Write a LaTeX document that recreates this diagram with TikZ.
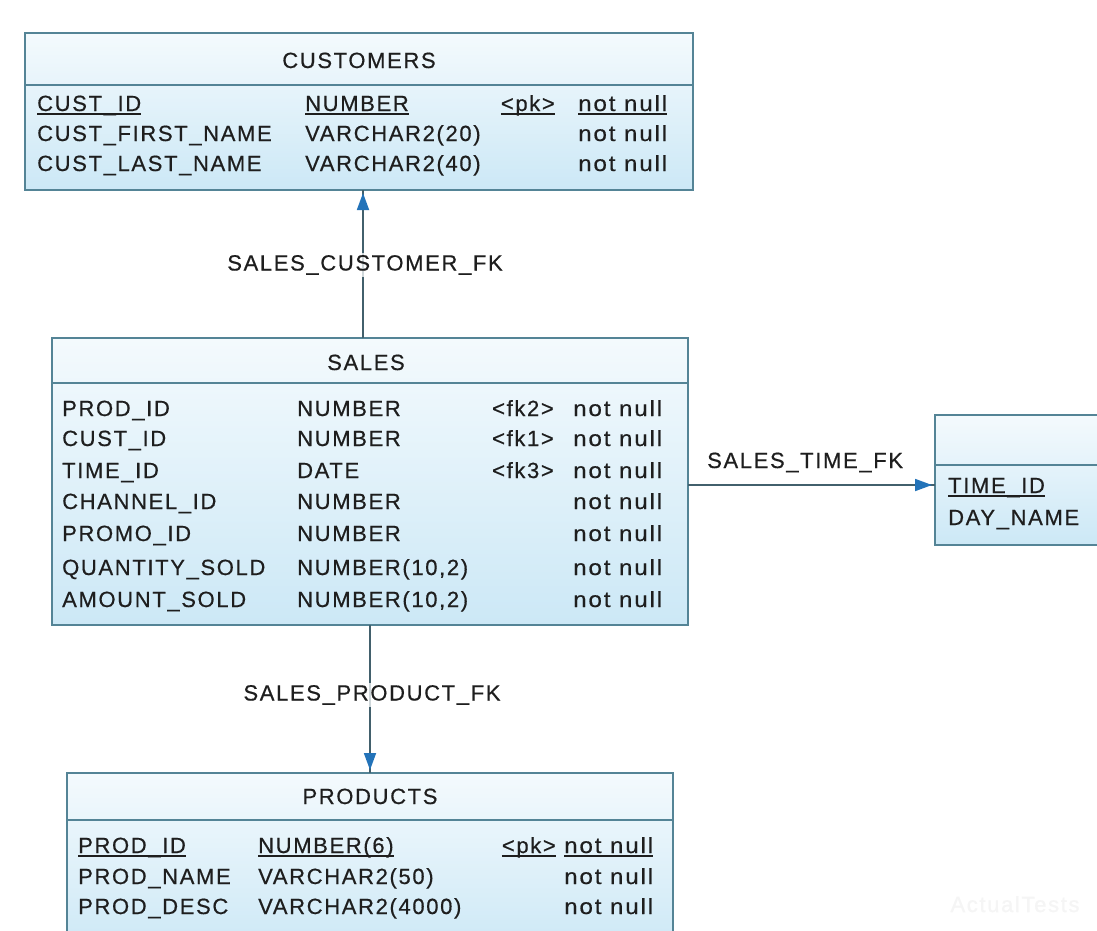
\documentclass[tikz,border=0pt]{standalone}
\usepackage{fontspec}
\usepackage{graphicx}
\newfontfamily\erdfont[LetterSpace=7.5,FakeBold=0.5]{Liberation Sans}
\usetikzlibrary{arrows.meta}
\definecolor{bord}{RGB}{84,132,150}
\definecolor{fillA}{RGB}{244,250,253}
\definecolor{fillB}{RGB}{204,232,246}
\definecolor{linkc}{RGB}{66,96,108}
\definecolor{arrc}{RGB}{35,115,185}
\definecolor{txt}{RGB}{30,30,30}
\newcommand\ulx[1]{\setbox0\hbox{#1}\rlap{\rule[-3.5pt]{\wd0}{1.6pt}}\box0}
\newcommand\nn{\scalebox{1.1}[1]{not null}}
\tikzset{
  tbl/.style={draw=bord, line width=1.8pt, top color=fillA, bottom color=fillB,
    inner sep=0pt, outer sep=0pt, anchor=north west},
  sepline/.style={draw=bord, line width=1.8pt},
  cell/.style={anchor=base west, inner sep=0pt, text=txt,
    font=\erdfont\fontsize{22}{24}\selectfont},
  keycell/.style={cell, anchor=base east},
  hdr/.style={cell, anchor=base},
  lbl/.style={cell, fill=white, fill opacity=0.75, text opacity=1, inner sep=2pt},
  linkline/.style={draw=linkc, line width=1.8pt},
  fkarrow/.style={draw=linkc, line width=1.8pt, shorten >=3pt,
    -{Triangle[length=17pt,width=12pt,color=arrc]}},
}
\begin{document}
\begin{tikzpicture}[x=1pt,y=-1pt]
\useasboundingbox (0,0) rectangle (1097,930);
\clip (0,0) rectangle (1097,930);
\fill[white] (0,0) rectangle (1097,930);

% ---------- CUSTOMERS ----------
\node[tbl, minimum width=668pt, minimum height=157pt] (cust) at (25,33) {};
\draw[sepline] (25,85) -- (693,85);
\node[hdr] (cust-h) at (359,68) {CUSTOMERS};
\node[cell] (cust-n1) at (37,111) {\ulx{CUST\_ID}};
\node[cell] (cust-t1) at (305,111) {\ulx{NUMBER}};
\node[keycell] (cust-k1) at (555,111) {\ulx{<pk>}};
\node[cell] (cust-z1) at (578,111) {\ulx{\nn}};
\node[cell] (cust-n2) at (37,141) {CUST\_FIRST\_NAME};
\node[cell] (cust-t2) at (305,141) {VARCHAR2(20)};
\node[cell] (cust-z2) at (578,141) {\nn};
\node[cell] (cust-n3) at (37,171) {CUST\_LAST\_NAME};
\node[cell] (cust-t3) at (305,171) {VARCHAR2(40)};
\node[cell] (cust-z3) at (578,171) {\nn};

% ---------- SALES ----------
\node[tbl, minimum width=636pt, minimum height=287pt] (sales) at (52,338) {};
\draw[sepline] (52,383) -- (688,383);
\node[hdr] (sales-h) at (366,370) {SALES};
\foreach \nm/\ty/\ky/\yy [count=\i] in {
  PROD\_ID/NUMBER/{<fk2>}/416,
  CUST\_ID/NUMBER/{<fk1>}/446,
  TIME\_ID/DATE/{<fk3>}/478,
  CHANNEL\_ID/NUMBER/{}/509,
  PROMO\_ID/NUMBER/{}/541,
  QUANTITY\_SOLD/{NUMBER(10,2)}/{}/575,
  AMOUNT\_SOLD/{NUMBER(10,2)}/{}/607}{
  \node[cell] (sales-n\i) at (62,\yy) {\nm};
  \node[cell] (sales-t\i) at (297,\yy) {\ty};
  \node[keycell] (sales-k\i) at (554,\yy) {\ky};
  \node[cell] (sales-z\i) at (573,\yy) {\nn};
}

% ---------- TIMES (cut off) ----------
\node[tbl, minimum width=200pt, minimum height=130pt] (times) at (935,415) {};
\draw[sepline] (935,465) -- (1110,465);
\node[cell] (times-n1) at (948,493) {\ulx{TIME\_ID}};
\node[cell] (times-n2) at (948,525) {DAY\_NAME};

% ---------- PRODUCTS (cut off) ----------
\node[tbl, minimum width=606pt, minimum height=180pt] (prod) at (67,773) {};
\draw[sepline] (67,820) -- (673,820);
\node[hdr] (prod-h) at (370,804) {PRODUCTS};
\node[cell] (prod-n1) at (78,853) {\ulx{PROD\_ID}};
\node[cell] (prod-t1) at (258,853) {\ulx{NUMBER(6)}};
\node[keycell] (prod-k1) at (556,853) {\ulx{<pk>}};
\node[cell] (prod-z1) at (564,853) {\ulx{\nn}};
\node[cell] (prod-n2) at (78,884) {PROD\_NAME};
\node[cell] (prod-t2) at (258,884) {VARCHAR2(50)};
\node[cell] (prod-z2) at (564,884) {\nn};
\node[cell] (prod-n3) at (78,914) {PROD\_DESC};
\node[cell] (prod-t3) at (258,914) {VARCHAR2(4000)};
\node[cell] (prod-z3) at (564,914) {\nn};

% ---------- connectors ----------
\coordinate (cx) at (363,0);
\coordinate (px) at (370,0);
\coordinate (ty) at (0,485);
\draw[linkline] (sales.north -| cx) -- (cust.south -| cx);
\draw[fkarrow] (sales.north -| cx) -- (cust.south -| cx);
\draw[linkline] (sales.south -| px) -- (prod.north -| px);
\draw[fkarrow] (sales.south -| px) -- (prod.north -| px);
\draw[linkline] (sales.east |- ty) -- (times.west |- ty);
\draw[fkarrow] (sales.east |- ty) -- (times.west |- ty);

\node[lbl, anchor=center] (lab-cust) at (365,265) {SALES\_CUSTOMER\_FK};
\node[lbl, anchor=center] (lab-prod) at (372,695) {SALES\_PRODUCT\_FK};
\node[cell, anchor=base west] (lab-time) at (707,468) {SALES\_TIME\_FK};

% watermark
\node[cell, anchor=base, text=black!4] (wm) at (1015,912) {ActualTests};
\end{tikzpicture}
\end{document}
